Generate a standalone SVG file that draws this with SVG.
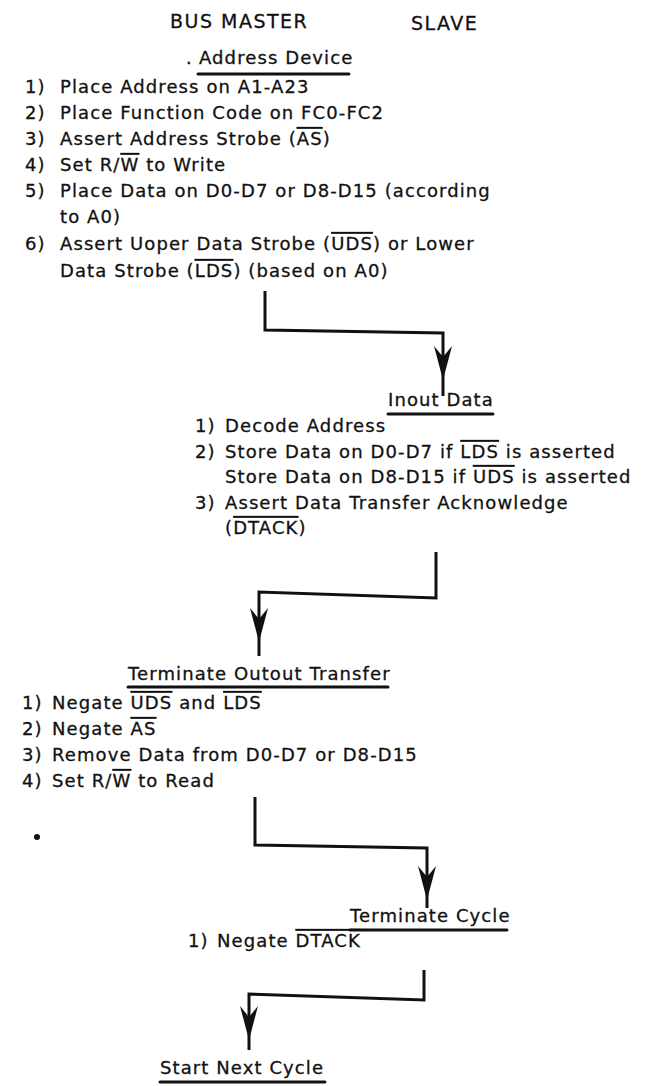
<svg xmlns="http://www.w3.org/2000/svg" width="658" height="1086" viewBox="0 0 658 1086">
<style>
text{font-family:"DejaVu Sans","Liberation Sans",sans-serif;font-size:18px;letter-spacing:1.1px;fill:#111;stroke:#111;stroke-width:0.3px}
.h{font-size:19px;letter-spacing:1.5px}
.ov{text-decoration:overline}
.ul{stroke:#111;stroke-width:3;stroke-linecap:round}
.c{fill:none;stroke:#111;stroke-width:3;stroke-linejoin:miter}
</style>
<defs><path id="ah" d="M0,0 L-9,-34 L0,-23 L9,-34 Z" fill="#111"/></defs>
<rect width="658" height="1086" fill="#fff"/>
<g id="header">
<text class="h" x="170" y="28">BUS MASTER</text>
<text class="h" x="411" y="30">SLAVE</text>
</g>
<g id="address-device">
<text x="186" y="64">.</text>
<text x="199" y="64">Address Device</text>
<line class="ul" x1="198" y1="74" x2="349" y2="74"/>
<text x="25" y="93">1)</text><text x="60" y="93">Place Address on A1-A23</text>
<text x="25" y="119">2)</text><text x="60" y="119">Place Function Code on FC0-FC2</text>
<text x="25" y="145">3)</text><text x="60" y="145">Assert Address Strobe (<tspan class="ov">AS</tspan>)</text>
<text x="25" y="171">4)</text><text x="60" y="171">Set R/<tspan class="ov">W</tspan> to Write</text>
<text x="25" y="197">5)</text><text x="60" y="197">Place Data on D0-D7 or D8-D15 (according</text>
<text x="60" y="223">to A0)</text>
<text x="25" y="250">6)</text><text x="60" y="250">Assert Uoper Data Strobe (<tspan class="ov">UDS</tspan>) or Lower</text>
<text x="60" y="277">Data Strobe (<tspan class="ov">LDS</tspan>) (based on A0)</text>
</g>
<g id="input-data">
<text x="388" y="406">Inout Data</text>
<line class="ul" x1="388" y1="414" x2="493" y2="414"/>
<text x="195" y="432">1)</text><text x="225" y="432">Decode Address</text>
<text x="195" y="458">2)</text><text x="225" y="458">Store Data on D0-D7 if <tspan class="ov">LDS</tspan> is asserted</text>
<text x="225" y="483">Store Data on D8-D15 if <tspan class="ov">UDS</tspan> is asserted</text>
<text x="195" y="509">3)</text><text x="225" y="509">Assert Data Transfer Acknowledge</text>
<text x="225" y="534">(<tspan class="ov">DTACK</tspan>)</text>
</g>
<g id="terminate-output-transfer">
<text x="128" y="680">Terminate Outout Transfer</text>
<line class="ul" x1="128" y1="687" x2="388" y2="687"/>
<text x="22" y="709">1)</text><text x="52" y="709">Negate <tspan class="ov">UDS</tspan> and <tspan class="ov">LDS</tspan></text>
<text x="22" y="735">2)</text><text x="52" y="735">Negate <tspan class="ov">AS</tspan></text>
<text x="22" y="761">3)</text><text x="52" y="761">Remove Data from D0-D7 or D8-D15</text>
<text x="22" y="787">4)</text><text x="52" y="787">Set R/<tspan class="ov">W</tspan> to Read</text>
</g>
<g id="terminate-cycle">
<text x="350" y="922">Terminate Cycle</text>
<line class="ul" x1="350" y1="930" x2="507" y2="930"/>
<text x="188" y="947">1)</text><text x="217" y="947">Negate <tspan class="ov">DTACK</tspan></text>
</g>
<g id="start-next-cycle">
<text x="160" y="1074">Start Next Cycle</text>
<line class="ul" x1="160" y1="1082" x2="325" y2="1082"/>
</g>
<g id="connectors">
<path class="c" d="M265,291 L265,330 L443,333 L443,396"/>
<use href="#ah" x="443" y="380"/>
<path class="c" d="M436,552 L436,598 L259,592 L259,656"/>
<use href="#ah" x="259" y="642"/>
<path class="c" d="M255,797 L255,845 L427,848 L427,908"/>
<use href="#ah" x="427" y="900"/>
<path class="c" d="M424,970 L424,1000 L249,994 L249,1050"/>
<use href="#ah" x="249" y="1040"/>
</g>
<circle cx="37" cy="837" r="3" fill="#111"/>
</svg>
